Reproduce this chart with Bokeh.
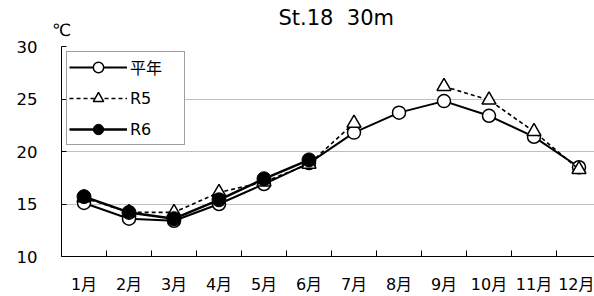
import numpy as np
from bokeh.plotting import figure
from bokeh.models import Range1d, FixedTicker, LinearAxis
from bokeh.embed import file_html
from bokeh.resources import INLINE

# ---- data ----
months = [1, 2, 3, 4, 5, 6, 7, 8, 9, 10, 11, 12]
month_labels = ["1月", "2月", "3月", "4月", "5月", "6月", "7月", "8月", "9月", "10月", "11月", "12月"]
heinen = [15.1, 13.6, 13.4, 15.0, 16.9, 18.9, 21.8, 23.7, 24.8, 23.4, 21.4, 18.5]
r5 = [15.6, 14.2, 14.2, 16.1, 17.1, 18.8, 22.7, np.nan, 26.2, 24.9, 21.9, 18.3]
r6 = [15.7, 14.2, 13.6, 15.4, 17.4, 19.2, np.nan, np.nan, np.nan, np.nan, np.nan, np.nan]
y_ticks = [10, 15, 20, 25, 30]
title_text = "St.18\u00a0\u00a030m"
unit_text = "℃"

FONT = "DejaVu Sans, Noto Sans CJK JP"
x_start = months[0] - 0.5

p = figure(width=594, height=296, output_backend="svg", toolbar_location=None,
           x_range=Range1d(x_start, x_start + 533 / 45), y_range=Range1d(10, 30),
           min_border_left=61, min_border_right=0, min_border_top=46, min_border_bottom=39,
           title=title_text)
p.outline_line_color = None
p.background_fill_color = "white"
p.border_fill_color = "white"

p.title.text_font = FONT
p.title.text_font_size = "21px"
p.title.text_font_style = "normal"
p.title.text_color = "black"
p.title.align = "left"
p.title.offset = 217
p.title.standoff = -26

# unit label (℃) shown above the top-left corner via an above axis
ua = LinearAxis(ticker=FixedTicker(ticks=[x_start]),
                major_label_overrides={x_start: unit_text})
ua.axis_line_color = None
ua.major_tick_line_color = None
ua.minor_tick_line_color = None
ua.major_tick_in = 0
ua.major_tick_out = 0
ua.major_label_standoff = 7
ua.major_label_text_font = FONT
ua.major_label_text_font_size = "17px"
ua.major_label_text_color = "black"
p.add_layout(ua, "above")

# x axis
xa = p.below[0]
xa.ticker = FixedTicker(ticks=months, minor_ticks=[m + 0.5 for m in months[:-1]])
xa.major_label_overrides = {m: l for m, l in zip(months, month_labels)}
xa.major_tick_line_color = None
xa.minor_tick_in = 6
xa.minor_tick_out = 0
xa.minor_tick_line_color = "black"
xa.axis_line_color = "black"
xa.major_label_text_font = FONT
xa.major_label_text_font_size = "16px"
xa.major_label_text_color = "black"
xa.major_label_standoff = 12

# y axis
ya = p.yaxis[0]
ya.ticker = FixedTicker(ticks=y_ticks)
ya.major_tick_in = 5
ya.major_tick_out = 0
ya.minor_tick_line_color = None
ya.major_tick_line_color = "black"
ya.axis_line_color = "black"
ya.major_label_text_font = FONT
ya.major_label_text_font_size = "16.5px"
ya.major_label_text_color = "black"
ya.major_label_standoff = 24

p.xgrid.grid_line_color = None
p.ygrid.ticker = FixedTicker(ticks=y_ticks)
p.ygrid.grid_line_color = "#7f7f7f"
p.ygrid.grid_line_dash = "1 1"
p.ygrid.grid_line_width = 1

# series
p.line(months, heinen, line_color="black", line_width=2, legend_label="平年")
p.scatter(months, heinen, marker="circle", size=13, fill_color="white",
          line_color="black", line_width=1.5, legend_label="平年")
p.line(months, r5, line_color="black", line_width=1.6, line_dash="4 3", legend_label="R5")
p.scatter(months, r5, marker="triangle", size=14, fill_color="white",
          line_color="black", line_width=1.5, legend_label="R5")
p.line(months, r6, line_color="black", line_width=2.5, legend_label="R6")
p.scatter(months, r6, marker="circle", size=14, fill_color="black",
          line_color="black", line_width=1, legend_label="R6")

lg = p.legend[0]
lg.location = "top_left"
lg.margin = 5
lg.padding = 2
lg.spacing = 5
lg.glyph_width = 58
lg.glyph_height = 26
lg.label_standoff = 3
lg.label_width = 52
lg.label_text_font = FONT
lg.label_text_font_size = "16px"
lg.label_text_color = "black"
lg.border_line_color = "#404040"
lg.border_line_width = 1
lg.background_fill_color = "white"
lg.background_fill_alpha = 1

open("out.html", "w").write(file_html(p, INLINE))
